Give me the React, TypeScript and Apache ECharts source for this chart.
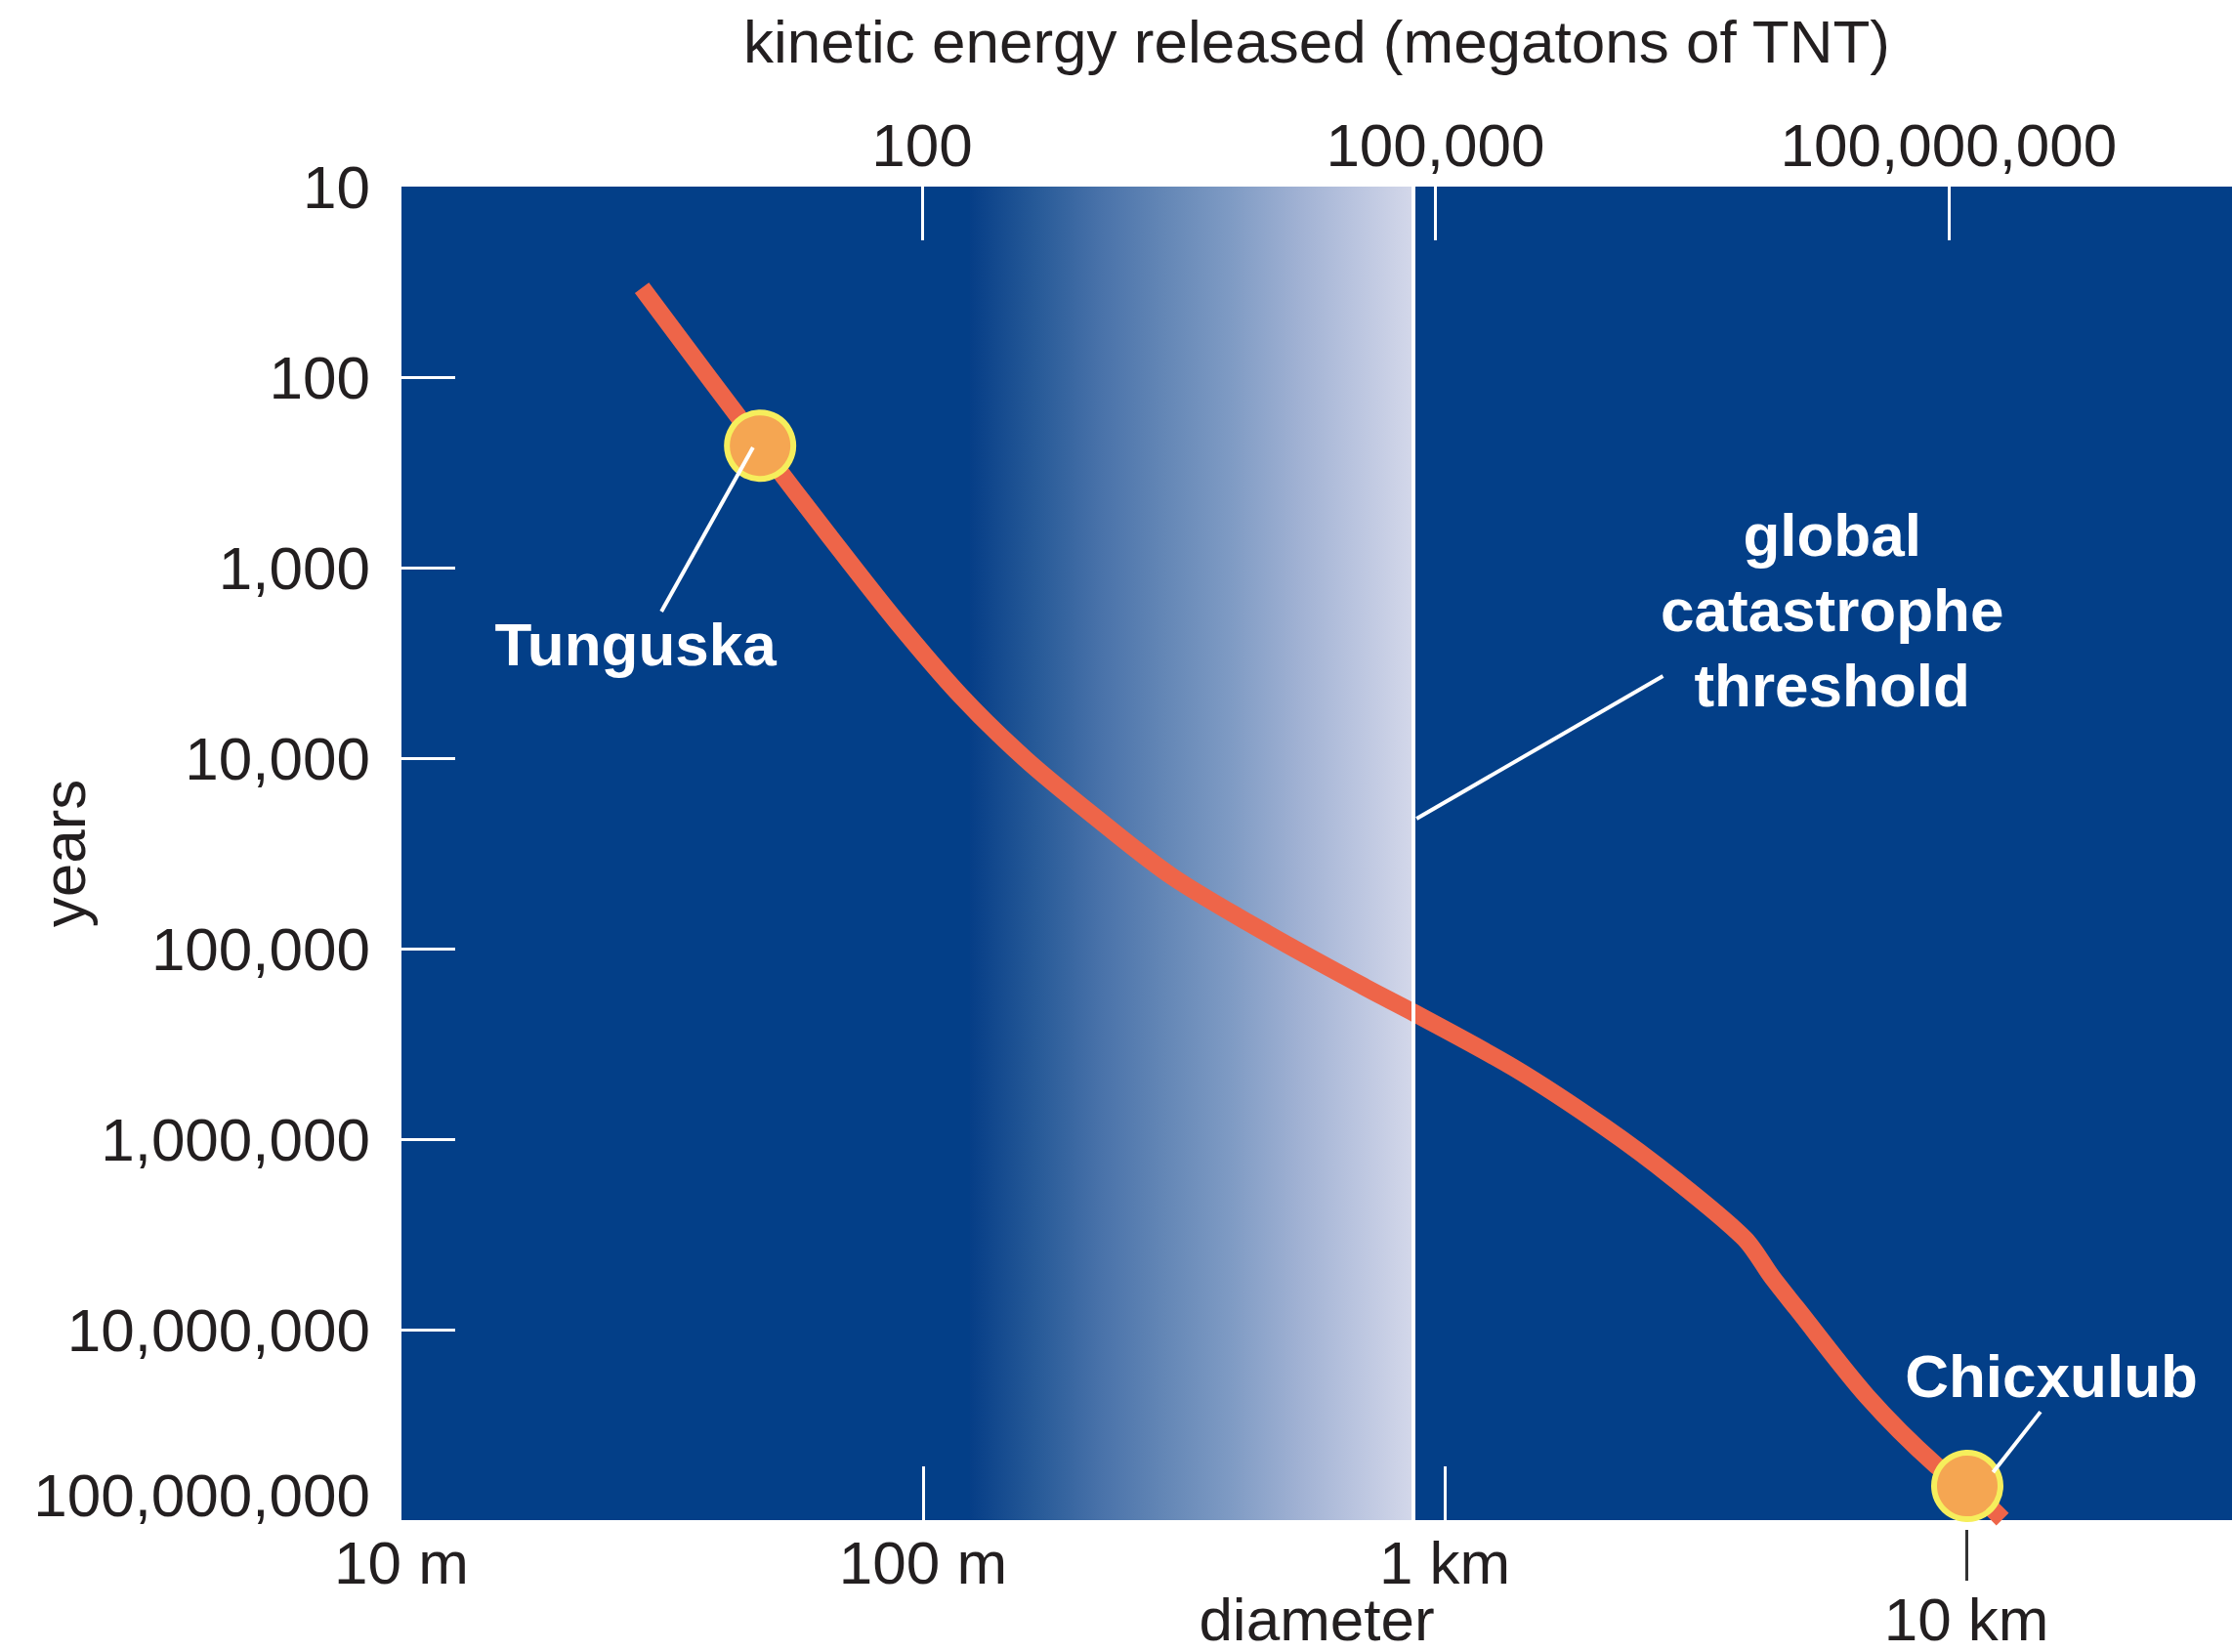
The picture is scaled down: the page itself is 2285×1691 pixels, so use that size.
import React, { useEffect, useRef } from "react";
import * as echarts from "echarts";

// ---- data (real units) ----
const diametersM = [28.9, 48.7, 66.4, 88.6, 118, 157, 210, 300, 462, 711, 875, 1358, 2028, 2755, 3757, 4240, 4724, 6442, 8750, 10040, 11730];
const intervalYears = [34, 229, 693, 1890, 4700, 10100, 19600, 41800, 84800, 162000, 218000, 423000, 867000, 1620000, 3330000, 5300000, 7710000, 22300000, 51600000, 66200000, 98900000];

const eventNames = ["Tunguska", "Chicxulub"];
const eventDiametersM = [48.7, 10040];
const eventYears = [229, 66200000];

const yearTicks = [10, 100, 1000, 10000, 100000, 1000000, 10000000, 100000000];
const yearInnerTicks = [100, 1000, 10000, 100000, 1000000, 10000000];
const diameterTicks = [10, 100, 1000, 10000];
const diameterTickLabels = ["10 m", "100 m", "1 km", "10 km"];
const diameterInnerTicks = [100, 1000];
const energyTicks = [100, 100000, 100000000];
const energyTickLabels = ["100", "100,000", "100,000,000"];

const diameterRange = [10, 32300];
const yearRange = [10, 100000000];
const energyRange = [0.0906, 4530000000];

const thresholdDiameterM = 871;
const gradientStartDiameterM = 123;

// annotation anchors: [diameter m, years]
const tunguskaLabelAt = [28.1, 2540];
const tunguskaPointer = [[47.2, 234], [31.5, 1700]];
const thresholdLabelAt = [5530, 1680];
const thresholdPointer = [[2620, 3710], [883, 20800]];
const chicxulubLabelAt = [14550, 17600000];
const chicxulubPointer = [[13870, 27000000], [11250, 56100000]];

const L = (v: number) => Math.log10(v);
const FONT = "'Liberation Sans', Arial, Helvetica, sans-serif";
const TEXT = "#231f20";
const BLUE = "#033f88";

export default function App() {
  const ref = useRef<HTMLDivElement>(null);
  useEffect(() => {
    if (!ref.current) return;
    const chart = echarts.init(ref.current, null, { renderer: "svg" });
    const near = (a: number, b: number) => Math.abs(a - b) < 1e-6;
    const pt = (p: number[]) => [L(p[0]), L(p[1])];

    const option: any = {
      animation: false,
      backgroundColor: "#ffffff",
      textStyle: { fontFamily: FONT },
      grid: {
        left: 411,
        right: 0,
        top: 191,
        bottom: 135,
        show: true,
        backgroundColor: BLUE,
        borderWidth: 0,
        containLabel: false,
        outerBoundsMode: "none",
      },
      xAxis: [
        {
          type: "value",
          position: "bottom",
          min: L(diameterRange[0]),
          max: L(diameterRange[1]),
          axisLine: { show: false, onZero: false },
          splitLine: { show: false },
          axisTick: {
            show: true,
            inside: true,
            length: 55,
            lineStyle: { color: "#ffffff", width: 3 },
            customValues: diameterInnerTicks.map(L),
          },
          axisLabel: {
            customValues: diameterTicks.map(L),
            margin: 12,
            color: TEXT,
            fontSize: 62,
            fontFamily: FONT,
            formatter: (v: number) => {
              const i = diameterTicks.findIndex((t) => near(L(t), v));
              if (i < 0) return "";
              if (i === diameterTicks.length - 1) return "{low|" + diameterTickLabels[i] + "}";
              return diameterTickLabels[i];
            },
            rich: {
              low: { padding: [58, 0, 0, 0], fontSize: 62, color: TEXT, fontFamily: FONT },
            },
          },
          name: "diameter",
          nameLocation: "middle",
          nameGap: 70,
          nameMoveOverlap: false,
          nameTextStyle: { fontSize: 62, color: TEXT, fontFamily: FONT },
        },
        {
          type: "value",
          position: "top",
          min: L(energyRange[0]),
          max: L(energyRange[1]),
          axisLine: { show: false, onZero: false },
          splitLine: { show: false },
          axisTick: {
            show: true,
            inside: true,
            length: 55,
            lineStyle: { color: "#ffffff", width: 3 },
            customValues: energyTicks.map(L),
          },
          axisLabel: {
            customValues: energyTicks.map(L),
            margin: 12,
            color: TEXT,
            fontSize: 62,
            fontFamily: FONT,
            formatter: (v: number) => {
              const i = energyTicks.findIndex((t) => near(L(t), v));
              return i < 0 ? "" : energyTickLabels[i];
            },
          },
          name: "kinetic energy released (megatons of TNT)",
          nameLocation: "middle",
          nameGap: 118,
          nameMoveOverlap: false,
          nameTextStyle: { fontSize: 62, color: TEXT, fontFamily: FONT },
        },
        {
          type: "value",
          position: "bottom",
          offset: 10,
          min: L(diameterRange[0]),
          max: L(diameterRange[1]),
          axisLine: { show: false, onZero: false },
          splitLine: { show: false },
          axisTick: {
            show: true,
            inside: false,
            length: 52,
            lineStyle: { color: "#333333", width: 3 },
            customValues: [L(diameterTicks[diameterTicks.length - 1])],
          },
          axisLabel: { show: false },
        },
      ],
      yAxis: {
        type: "value",
        inverse: true,
        min: L(yearRange[0]),
        max: L(yearRange[1]),
        interval: 1,
        axisLine: { show: false, onZero: false },
        splitLine: { show: false },
        axisTick: {
          show: true,
          inside: true,
          length: 55,
          lineStyle: { color: "#ffffff", width: 3 },
          customValues: yearInnerTicks.map(L),
        },
        axisLabel: {
          customValues: yearTicks.map(L),
          margin: 32,
          color: TEXT,
          fontSize: 62,
          fontFamily: FONT,
          formatter: (v: number) => {
            const i = yearTicks.findIndex((t) => near(L(t), v));
            if (i < 0) return "";
            const s = yearTicks[i].toLocaleString("en-US");
            return i === yearTicks.length - 1 ? "{up|" + s + "}" : s;
          },
          rich: {
            up: { padding: [0, 0, 52, 0], fontSize: 62, color: TEXT, fontFamily: FONT },
          },
        },
        name: "years",
        nameLocation: "middle",
        nameGap: 315,
        nameRotate: 90,
        nameMoveOverlap: false,
        nameTextStyle: { fontSize: 62, color: TEXT, fontFamily: FONT },
      },
      series: [
        {
          name: "background",
          type: "line",
          z: 1,
          silent: true,
          symbol: "none",
          data: [[L(thresholdDiameterM), L(yearRange[0])]],
          lineStyle: { opacity: 0 },
          markArea: {
            silent: true,
            itemStyle: {
              color: new echarts.graphic.LinearGradient(0, 0, 1, 0, [
                { offset: 0, color: "#063e87" },
                { offset: 0.15, color: "#275a98" },
                { offset: 0.3, color: "#4a73aa" },
                { offset: 0.44, color: "#6487b6" },
                { offset: 0.59, color: "#7f9bc4" },
                { offset: 0.74, color: "#a0b1d3" },
                { offset: 0.88, color: "#bcc6e0" },
                { offset: 1, color: "#d4d8ea" },
              ]),
            },
            data: [[{ xAxis: L(gradientStartDiameterM) }, { xAxis: L(thresholdDiameterM) }]],
          },
          markLine: {
            silent: true,
            symbol: ["none", "none"],
            label: { show: false },
            lineStyle: { color: "#ffffff", width: 4, type: "solid" },
            data: [{ xAxis: L(thresholdDiameterM) }],
          },
        },
        {
          name: "impact frequency",
          type: "line",
          z: 2,
          silent: true,
          smooth: 0.3,
          symbol: "none",
          clip: true,
          lineStyle: { color: "#ee6549", width: 18, cap: "butt" },
          data: diametersM.map((d, i) => [L(d), L(intervalYears[i])]),
        },
        {
          name: "events",
          type: "scatter",
          z: 3,
          silent: true,
          clip: false,
          symbol: "circle",
          symbolSize: 68,
          itemStyle: { color: "#f5a652", borderColor: "#f6ee5c", borderWidth: 6, opacity: 1 },
          data: eventNames.map((n, i) => ({ name: n, value: [L(eventDiametersM[i]), L(eventYears[i])] })),
        },
        {
          name: "annotations",
          type: "line",
          z: 4,
          silent: true,
          symbol: "none",
          lineStyle: { opacity: 0 },
          data: [[L(diameterRange[0]), L(yearRange[0])]],
          markLine: {
            silent: true,
            symbol: ["none", "none"],
            label: { show: false },
            lineStyle: { color: "#ffffff", width: 4, type: "solid" },
            data: [tunguskaPointer, thresholdPointer, chicxulubPointer].map((seg) => [
              { coord: pt(seg[0]) },
              { coord: pt(seg[1]) },
            ]),
          },
          markPoint: {
            silent: true,
            symbol: "circle",
            symbolSize: 1,
            itemStyle: { color: "rgba(0,0,0,0)" },
            label: {
              show: true,
              position: "inside",
              color: "#ffffff",
              fontSize: 62,
              fontWeight: "bold",
              fontFamily: FONT,
              lineHeight: 77,
              align: "center",
              formatter: (p: any) => p.name,
            },
            data: [
              { name: eventNames[0], coord: pt(tunguskaLabelAt) },
              { name: "global\ncatastrophe\nthreshold", coord: pt(thresholdLabelAt) },
              { name: eventNames[1], coord: pt(chicxulubLabelAt) },
            ],
          },
        },
      ],
    };
    chart.setOption(option);
    return () => chart.dispose();
  }, []);

  return (
    <div
      ref={ref}
      style={{ position: "absolute", left: 0, top: 0, width: 2285, height: 1691, background: "#fff" }}
    />
  );
}
